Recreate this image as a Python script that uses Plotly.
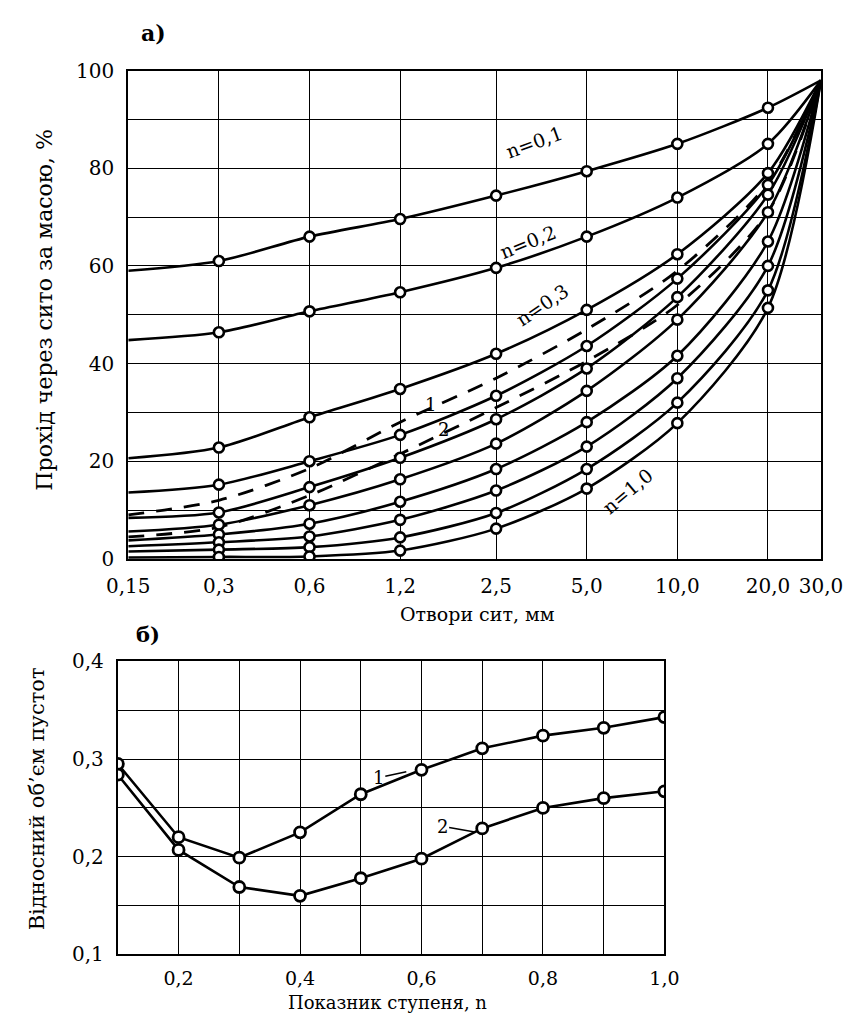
import math
import plotly.graph_objects as go

W, H = 861, 1025

# ---------- data: chart a) ----------
sieves = [0.15, 0.3, 0.6, 1.2, 2.5, 5.0, 10.0, 20.0, 30.0]
sieve_labels = ["0,15", "0,3", "0,6", "1,2", "2,5", "5,0", "10,0", "20,0", "30,0"]

n_labels = ["0,1", "0,2", "0,3", "0,4", "0,5", "0,6", "0,7", "0,8", "0,9", "1,0"]
curve_n01 = [59.0, 61.0, 66.0, 69.6, 74.4, 79.4, 85.0, 92.4, 98.0]
curve_n02 = [44.8, 46.4, 50.7, 54.6, 59.6, 66.0, 74.0, 85.0, 98.0]
curve_n03 = [20.6, 22.8, 29.0, 34.8, 42.0, 51.0, 62.4, 79.0, 98.0]
curve_n04 = [13.6, 15.2, 20.0, 25.4, 33.4, 43.6, 57.4, 76.6, 98.0]
curve_n05 = [8.4, 9.5, 14.7, 20.7, 28.6, 39.0, 53.6, 74.6, 98.0]
curve_n06 = [5.6, 7.0, 11.0, 16.3, 23.6, 34.4, 49.0, 71.0, 98.0]
curve_n07 = [3.8, 5.0, 7.2, 11.7, 18.4, 28.0, 41.6, 65.0, 98.0]
curve_n08 = [2.6, 3.4, 4.6, 8.0, 14.0, 23.0, 37.0, 60.0, 98.0]
curve_n09 = [1.5, 1.9, 2.4, 4.4, 9.4, 18.4, 32.0, 55.0, 98.0]
curve_n10 = [0.3, 0.4, 0.5, 1.7, 6.2, 14.4, 27.8, 51.4, 98.0]
curves_a = [curve_n01, curve_n02, curve_n03, curve_n04, curve_n05,
            curve_n06, curve_n07, curve_n08, curve_n09, curve_n10]

dashed_1 = [9.0, 12.0, 18.5, 28.0, 37.0, 47.0, 59.0, 77.0, 98.0]
dashed_2 = [4.5, 6.5, 13.0, 21.5, 31.0, 40.5, 52.0, 71.0, 98.0]

y_ticks_a = [0, 10, 20, 30, 40, 50, 60, 70, 80, 90, 100]
y_ticktext_a = ["0", "", "20", "", "40", "", "60", "", "80", "", "100"]

# ---------- data: chart б) ----------
n_values = [0.1, 0.2, 0.3, 0.4, 0.5, 0.6, 0.7, 0.8, 0.9, 1.0]
voids_1 = [0.295, 0.220, 0.199, 0.225, 0.264, 0.289, 0.311, 0.324, 0.332, 0.343]
voids_2 = [0.284, 0.207, 0.169, 0.160, 0.178, 0.198, 0.229, 0.250, 0.260, 0.267]
x_ticks_b = [0.1, 0.2, 0.3, 0.4, 0.5, 0.6, 0.7, 0.8, 0.9, 1.0]
x_ticktext_b = ["", "0,2", "", "0,4", "", "0,6", "", "0,8", "", "1,0"]
y_ticks_b = [0.1, 0.15, 0.2, 0.25, 0.3, 0.35, 0.4]
y_ticktext_b = ["0,1", "", "0,2", "", "0,3", "", "0,4"]

FONT = "DejaVu Serif"
BLACK = "black"


def px(x):
    return x / W


def py(y):
    return 1 - y / H


fig = go.Figure()

# chart a) curves
for vals in curves_a:
    fig.add_trace(go.Scatter(
        x=sieves, y=vals, mode="lines",
        line=dict(color=BLACK, width=2.6, shape="spline", smoothing=0.8),
        xaxis="x", yaxis="y", showlegend=False, hoverinfo="skip"))
for vals in (dashed_1, dashed_2):
    fig.add_trace(go.Scatter(
        x=sieves, y=vals, mode="lines",
        line=dict(color=BLACK, width=2.8, shape="spline", smoothing=0.8,
                  dash="16px,12px"),
        xaxis="x", yaxis="y", showlegend=False, hoverinfo="skip"))
for vals in curves_a:
    fig.add_trace(go.Scatter(
        x=sieves[1:-1], y=vals[1:-1], mode="markers",
        marker=dict(symbol="circle", size=10, color="white",
                    line=dict(color=BLACK, width=2.6)),
        xaxis="x", yaxis="y", showlegend=False, hoverinfo="skip"))

# chart б) curves
for vals in (voids_1, voids_2):
    fig.add_trace(go.Scatter(
        x=n_values, y=vals, mode="lines+markers",
        line=dict(color=BLACK, width=2.6),
        marker=dict(symbol="circle", size=11, color="white",
                    line=dict(color=BLACK, width=2.8)),
        xaxis="x2", yaxis="y2", showlegend=False, hoverinfo="skip"))

axis_common = dict(
    showgrid=True, gridcolor=BLACK, gridwidth=1.4,
    showline=True, linecolor=BLACK, linewidth=2, mirror=True,
    ticks="", zeroline=False,
)
tick_font = dict(family=FONT, size=20, color=BLACK)
tick_font_b = dict(family=FONT, size=19, color=BLACK)

fig.update_layout(
    width=W, height=H,
    margin=dict(l=0, r=0, t=0, b=0),
    paper_bgcolor="white", plot_bgcolor="white",
    xaxis=dict(
        type="log",
        range=[math.log10(sieves[0]), math.log10(sieves[-1])],
        domain=[px(112), px(842)], anchor="y",
        tickmode="array", tickvals=sieves, ticktext=sieve_labels,
        ticklabelstandoff=8, tickfont=tick_font,
        **axis_common),
    yaxis=dict(
        range=[0, 100], domain=[py(560), py(60)], anchor="x",
        tickmode="array", tickvals=y_ticks_a, ticktext=y_ticktext_a,
        ticklabelstandoff=8, tickfont=tick_font,
        **axis_common),
    xaxis2=dict(
        range=[0.1, 1.0], domain=[px(101), px(677)], anchor="y2",
        tickmode="array", tickvals=x_ticks_b, ticktext=x_ticktext_b,
        ticklabelstandoff=6, tickfont=tick_font_b,
        **axis_common),
    yaxis2=dict(
        range=[0.1, 0.4], domain=[py(965), py(665)], anchor="x2",
        tickmode="array", tickvals=y_ticks_b, ticktext=y_ticktext_b,
        ticklabelstandoff=8, tickfont=tick_font,
        **axis_common),
)

ann = []


def text(x, y, s, size=20, angle=0, bold=False, xanchor="center"):
    ann.append(dict(
        x=px(x), y=py(y), xref="paper", yref="paper", text=s,
        showarrow=False, textangle=angle, xanchor=xanchor, yanchor="middle",
        font=dict(family=FONT, size=size, color=BLACK,
                  weight="bold" if bold else "normal")))


text(139, 22, "а)", size=22, bold=True)
text(133, 637, "б)", size=21, bold=True)
text(24, 305, "Прохід через сито за масою, %", size=22, angle=-90)
text(480, 616, "Отвори сит, мм", size=19)
text(16, 806, "Відносний об’єм пустот", size=21, angle=-90)
text(385, 1014, "Показник ступеня, n", size=18)

# curve labels
text(540, 133, "n=0,1", size=19, angle=-20)
text(533, 236, "n=0,2", size=19, angle=-22)
text(548, 300, "n=0,3", size=19, angle=-34)
text(638, 490, "n=1,0", size=19, angle=-40)
text(430, 402, "1", size=18)
text(444, 427, "2", size=18)

# labels with short leaders on chart б)
ann.append(dict(x=0.575, y=voids_1[5] - 0.002, xref="x2", yref="y2", text="1",
                showarrow=True, arrowhead=0, arrowwidth=1.5, arrowcolor=BLACK,
                ax=-28, ay=6, font=dict(family=FONT, size=18, color=BLACK)))
ann.append(dict(x=0.69, y=voids_2[6] - 0.004, xref="x2", yref="y2", text="2",
                showarrow=True, arrowhead=0, arrowwidth=1.5, arrowcolor=BLACK,
                ax=-34, ay=-6, font=dict(family=FONT, size=18, color=BLACK)))

fig.update_layout(annotations=ann)
fig.write_html("out.html")
